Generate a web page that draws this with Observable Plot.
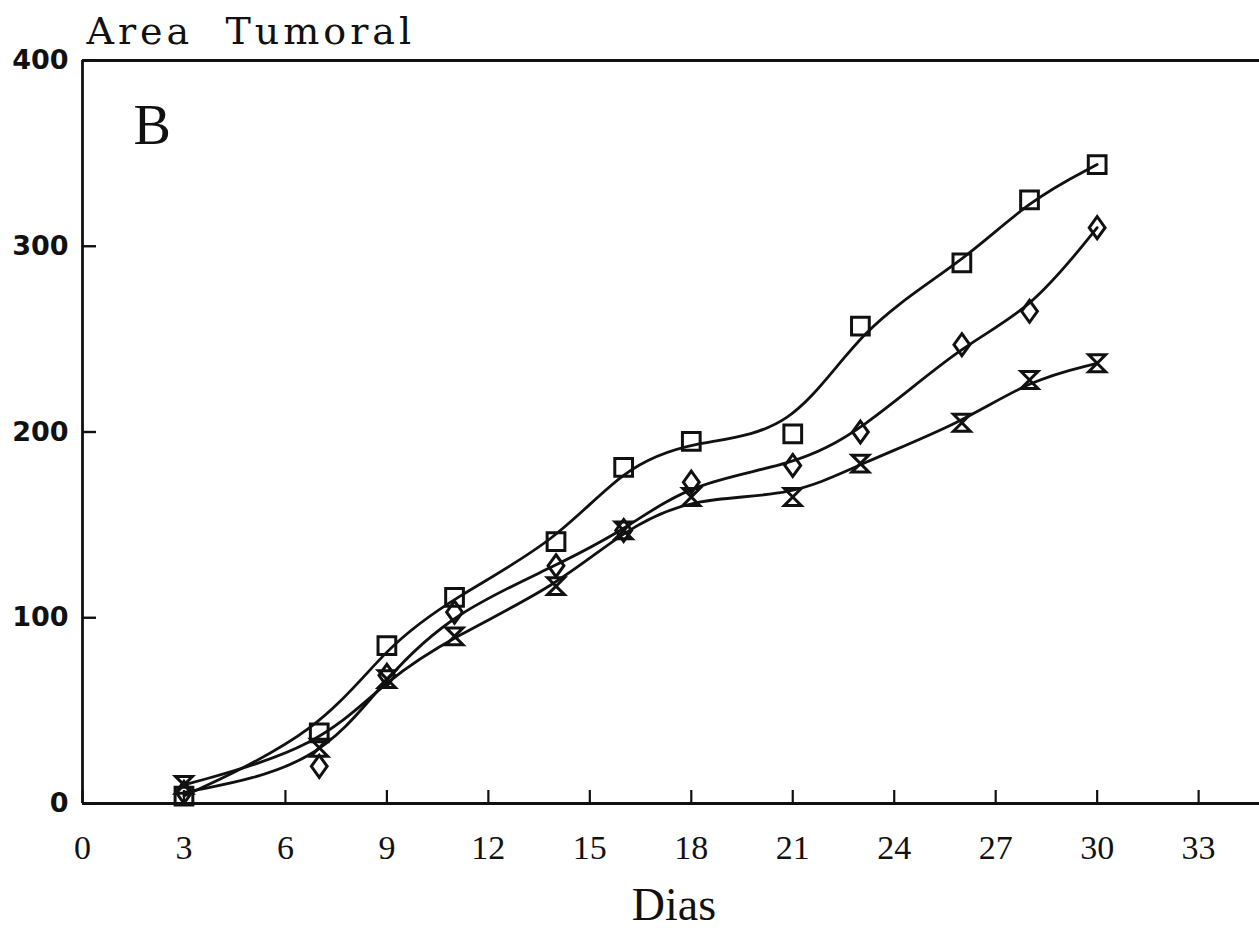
<!DOCTYPE html>
<html>
<head>
<meta charset="utf-8">
<script src="https://cdn.jsdelivr.net/npm/d3@7"></script>
<script src="https://cdn.jsdelivr.net/npm/@observablehq/plot@0.6"></script>
<style>
  html, body { margin: 0; padding: 0; background: #fff; }
  #chart svg { display: block; }
</style>
</head>
<body>
<div id="chart"></div>
<script>
// Days of measurement
const dias = [3, 7, 9, 11, 14, 16, 18, 21, 23, 26, 28, 30];
// Series values (area tumoral)
const serieCuadrado = [4, 38, 85, 111, 141, 181, 195, 199, 257, 291, 325, 344];
const serieRombo    = [6, 20, 69, 103, 128, 147, 173, 182, 200, 247, 265, 310];
const serieReloj    = [10, 30, 67, 90, 117, 147, 165, 165, 183, 205, 228, 237];
// Tick labels
const xTicks = [0, 3, 6, 9, 12, 15, 18, 21, 24, 27, 30, 33];
const yTicks = [0, 100, 200, 300, 400];
const titulo = "Area\u00a0\u00a0Tumoral";
const panel = "B";
const xLabel = "Dias";

// custom hourglass symbol
const hourglass = {
  draw(context, size) {
    const r = Math.sqrt(size) / 2;
    context.moveTo(-r, -r);
    context.lineTo(r, -r);
    context.lineTo(-r, r);
    context.lineTo(r, r);
    context.closePath();
  }
};
// custom diamond (wider than d3's)
const rombo = {
  draw(context, size) {
    const h = Math.sqrt(size) / 2 * 1.24;
    const w = h * 0.72;
    context.moveTo(0, -h);
    context.lineTo(w, 0);
    context.lineTo(0, h);
    context.lineTo(-w, 0);
    context.closePath();
  }
};

const build = (vals, serie) => dias.map((d, i) => ({dia: d, area: vals[i], serie}));
const dataC = build(serieCuadrado, "cuadrado");
const dataR = build(serieRombo, "rombo");
const dataH = build(serieReloj, "reloj");

const ink = "#111";
const sw = 2.8;

const chart = Plot.plot({
  width: 1259,
  height: 928,
  marginLeft: 82,
  marginRight: 0,
  marginTop: 60,
  marginBottom: 125,
  style: {background: "#fff", color: ink},
  x: {domain: [0, 34.8], label: null},
  y: {domain: [0, 400], label: null},
  marks: [
    // frame: left, top, bottom
    Plot.ruleX([0], {stroke: ink, strokeWidth: sw}),
    Plot.ruleY([0, 400], {stroke: ink, strokeWidth: sw}),
    // y ticks (inward) and labels
    Plot.axisY(yTicks, {tickSize: -14, fill: "none", stroke: ink, strokeWidth: 2.4, label: null}),
    Plot.axisY(yTicks, {tickSize: 0, tickPadding: 14, label: null, fill: ink,
      fontFamily: "DejaVu Sans", fontWeight: "bold", fontSize: 27}),
    // x ticks (inward) and labels
    Plot.axisX(xTicks, {tickSize: -13, fill: "none", stroke: ink, strokeWidth: 2.2, label: null}),
    Plot.axisX(xTicks, {tickSize: 0, tickPadding: 31, label: null, fill: ink,
      fontFamily: "Liberation Serif", fontSize: 34}),
    // smoothed curves
    Plot.line(dataC, {x: "dia", y: "area", curve: "basis", stroke: ink, strokeWidth: sw}),
    Plot.line(dataR, {x: "dia", y: "area", curve: "basis", stroke: ink, strokeWidth: sw}),
    Plot.line(dataH, {x: "dia", y: "area", curve: "basis", stroke: ink, strokeWidth: sw}),
    // markers
    Plot.dot(dataC, {x: "dia", y: "area", symbol: "square", r: 10, stroke: ink, strokeWidth: 3, fill: "none"}),
    Plot.dot(dataR, {x: "dia", y: "area", symbol: rombo, r: 10, stroke: ink, strokeWidth: 3, fill: "none"}),
    Plot.dot(dataH, {x: "dia", y: "area", symbol: hourglass, r: 9.5, stroke: ink, strokeWidth: 3, fill: "none"}),
    // texts
    Plot.text([titulo], {text: d => d, frameAnchor: "top-left", textAnchor: "start", lineAnchor: "bottom",
      dx: 4, dy: -17, fontFamily: "DejaVu Serif", fontSize: 38, fill: ink}),
    Plot.text([panel], {text: d => d, frameAnchor: "top-left", textAnchor: "start", lineAnchor: "bottom",
      dx: 51, dy: 83, fontFamily: "Liberation Serif", fontSize: 56, fill: ink}),
    Plot.text([xLabel], {text: d => d, frameAnchor: "bottom", textAnchor: "middle", lineAnchor: "bottom",
      dx: 3, dy: 116, fontFamily: "Liberation Serif", fontSize: 46, fill: ink})
  ]
});
// widen the title like the typewriter original
for (const t of chart.querySelectorAll("text")) {
  if (t.textContent === titulo) t.setAttribute("letter-spacing", "4");
}
document.getElementById("chart").append(chart);
</script>
</body>
</html>
